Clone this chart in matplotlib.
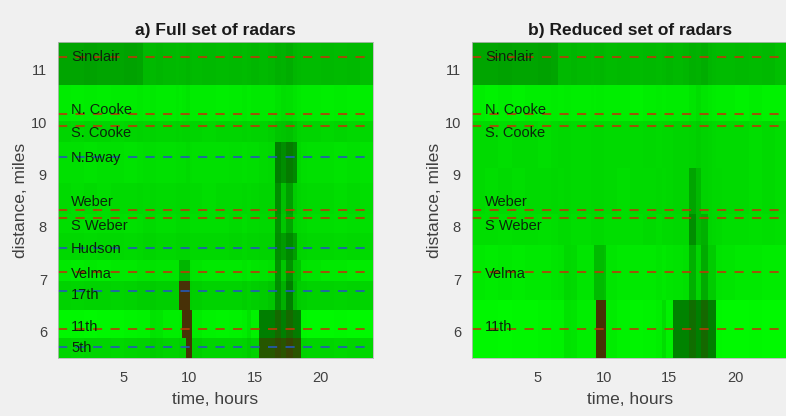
import matplotlib.pyplot as plt
import numpy as np
from matplotlib.colors import LinearSegmentedColormap

plt.rcParams['font.family'] = ['Liberation Sans', 'DejaVu Sans']

# time bin edges (hours), shared by every row
t_edges = [0, 1, 2, 3, 4, 5, 6, 6.5, 7, 7.5, 8, 9, 9.25, 9.45, 9.75, 10.05, 10.2,
           11, 12, 13, 14, 14.4, 14.7, 15.3, 16, 16.5, 17.0, 17.4, 17.9, 18.2,
           18.55, 19, 20, 21, 22, 23, 24]

# ---------- a) full set of radars ----------
full_names = ['Sinclair', 'N. Cooke', 'S. Cooke', 'N.Bway', 'Weber', 'S Weber',
              'Hudson', 'Velma', '17th', '11th', '5th']
full_pos = [11.25, 10.15, 9.92, 9.34, 8.32, 8.17, 7.60, 7.15, 6.77, 6.06, 5.71]
full_label_y = [11.25, 10.23, 9.79, 9.31, 8.48, 8.02, 7.58, 7.11, 6.70, 6.10, 5.69]
full_colors = ['r', 'r', 'r', 'b', 'r', 'r', 'b', 'r', 'b', 'r', 'b']
full_y_edges = [11.53, 10.70, 10.03, 9.62, 8.83, 8.245, 7.885, 7.375, 6.96, 6.415, 5.885, 5.5]

# relative speed per segment (1 = free flow), one value per time bin
full_sinclair = [0.68, 0.68, 0.67, 0.68, 0.68, 0.67, 0.68, 0.75, 0.75, 0.74, 0.75, 0.76,
                 0.75, 0.75, 0.74, 0.75, 0.76, 0.75, 0.76, 0.75, 0.76, 0.75, 0.74, 0.75,
                 0.74, 0.72, 0.73, 0.71, 0.74, 0.75, 0.76, 0.76, 0.75, 0.76, 0.75, 0.77]
full_ncooke = [0.93, 0.94, 0.93, 0.94, 0.93, 0.93, 0.92, 0.93, 0.92, 0.93, 0.93, 0.92,
               0.93, 0.92, 0.91, 0.93, 0.93, 0.93, 0.94, 0.93, 0.92, 0.93, 0.92, 0.92,
               0.92, 0.90, 0.88, 0.89, 0.91, 0.92, 0.93, 0.93, 0.94, 0.93, 0.94, 0.94]
full_scooke = [0.85, 0.86, 0.85, 0.85, 0.86, 0.85, 0.84, 0.85, 0.84, 0.85, 0.85, 0.84,
               0.85, 0.84, 0.84, 0.85, 0.85, 0.86, 0.85, 0.85, 0.84, 0.85, 0.84, 0.84,
               0.83, 0.80, 0.79, 0.78, 0.81, 0.84, 0.85, 0.85, 0.86, 0.85, 0.86, 0.86]
full_nbway = [0.89, 0.89, 0.90, 0.89, 0.89, 0.90, 0.89, 0.88, 0.88, 0.89, 0.89, 0.88,
              0.88, 0.88, 0.87, 0.88, 0.89, 0.89, 0.89, 0.88, 0.89, 0.88, 0.88, 0.87,
              0.86, 0.55, 0.60, 0.52, 0.58, 0.86, 0.88, 0.89, 0.89, 0.90, 0.89, 0.90]
full_weber = [0.87, 0.88, 0.87, 0.88, 0.87, 0.87, 0.86, 0.87, 0.86, 0.87, 0.87, 0.86,
              0.86, 0.86, 0.86, 0.87, 0.87, 0.88, 0.87, 0.87, 0.86, 0.87, 0.86, 0.85,
              0.85, 0.60, 0.78, 0.66, 0.82, 0.85, 0.86, 0.87, 0.87, 0.88, 0.87, 0.88]
full_sweber = [0.88, 0.88, 0.89, 0.88, 0.88, 0.89, 0.88, 0.87, 0.87, 0.88, 0.88, 0.87,
               0.87, 0.87, 0.87, 0.88, 0.88, 0.88, 0.88, 0.87, 0.88, 0.87, 0.87, 0.86,
               0.86, 0.62, 0.80, 0.68, 0.84, 0.86, 0.87, 0.88, 0.88, 0.89, 0.88, 0.89]
full_hudson = [0.86, 0.86, 0.87, 0.86, 0.86, 0.87, 0.86, 0.85, 0.85, 0.86, 0.86, 0.85,
               0.85, 0.85, 0.85, 0.86, 0.86, 0.86, 0.86, 0.85, 0.86, 0.85, 0.85, 0.84,
               0.84, 0.60, 0.65, 0.58, 0.66, 0.84, 0.85, 0.86, 0.86, 0.87, 0.86, 0.87]
full_velma = [0.92, 0.93, 0.92, 0.93, 0.92, 0.92, 0.91, 0.91, 0.90, 0.91, 0.91, 0.91,
              0.74, 0.74, 0.74, 0.90, 0.91, 0.92, 0.92, 0.92, 0.91, 0.92, 0.91, 0.90,
              0.89, 0.62, 0.80, 0.62, 0.78, 0.80, 0.90, 0.91, 0.92, 0.92, 0.93, 0.93]
full_17th = [0.84, 0.85, 0.84, 0.84, 0.85, 0.84, 0.83, 0.83, 0.82, 0.83, 0.83, 0.83,
             0.04, 0.04, 0.04, 0.82, 0.83, 0.84, 0.84, 0.84, 0.83, 0.84, 0.83, 0.82,
             0.80, 0.60, 0.72, 0.55, 0.75, 0.82, 0.83, 0.84, 0.84, 0.85, 0.84, 0.85]
full_11th = [0.97, 0.97, 0.98, 0.97, 0.97, 0.96, 0.95, 0.95, 0.90, 0.91, 0.94, 0.94,
             0.93, 0.05, 0.05, 0.08, 0.93, 0.95, 0.96, 0.95, 0.94, 0.90, 0.95, 0.55,
             0.55, 0.42, 0.55, 0.42, 0.52, 0.54, 0.97, 0.98, 0.98, 0.97, 0.98, 0.98]
full_5th = [0.85, 0.86, 0.85, 0.85, 0.86, 0.85, 0.84, 0.84, 0.82, 0.83, 0.84, 0.84,
            0.83, 0.83, 0.05, 0.06, 0.83, 0.85, 0.85, 0.85, 0.84, 0.82, 0.84, 0.32,
            0.32, 0.22, 0.30, 0.18, 0.30, 0.30, 0.84, 0.85, 0.85, 0.86, 0.85, 0.86]

# ---------- b) reduced set of radars ----------
red_names = ['Sinclair', 'N. Cooke', 'S. Cooke', 'Weber', 'S Weber', 'Velma', '11th']
red_pos = [11.25, 10.15, 9.92, 8.32, 8.17, 7.15, 6.06]
red_label_y = [11.25, 10.23, 9.79, 8.48, 8.02, 7.11, 6.10]
red_colors = ['r', 'r', 'r', 'r', 'r', 'r', 'r']
red_y_edges = [11.53, 10.70, 10.03, 9.12, 8.245, 7.66, 6.60, 5.5]

red_sinclair = [0.68, 0.68, 0.67, 0.68, 0.68, 0.67, 0.68, 0.75, 0.75, 0.74, 0.75, 0.76,
                0.75, 0.75, 0.74, 0.75, 0.76, 0.75, 0.76, 0.75, 0.76, 0.75, 0.74, 0.75,
                0.74, 0.72, 0.73, 0.71, 0.74, 0.75, 0.76, 0.76, 0.75, 0.76, 0.75, 0.77]
red_ncooke = [0.94, 0.95, 0.94, 0.95, 0.94, 0.94, 0.93, 0.94, 0.93, 0.94, 0.94, 0.93,
              0.94, 0.93, 0.93, 0.94, 0.94, 0.94, 0.95, 0.94, 0.93, 0.94, 0.93, 0.93,
              0.93, 0.91, 0.88, 0.91, 0.92, 0.93, 0.94, 0.94, 0.95, 0.94, 0.95, 0.95]
red_scooke = [0.87, 0.87, 0.88, 0.87, 0.87, 0.88, 0.87, 0.86, 0.86, 0.87, 0.87, 0.86,
              0.86, 0.86, 0.86, 0.87, 0.87, 0.87, 0.87, 0.86, 0.87, 0.86, 0.86, 0.85,
              0.85, 0.84, 0.83, 0.84, 0.85, 0.86, 0.87, 0.87, 0.87, 0.88, 0.87, 0.88]
red_weber = [0.87, 0.88, 0.87, 0.88, 0.87, 0.87, 0.86, 0.87, 0.86, 0.87, 0.87, 0.86,
             0.86, 0.86, 0.86, 0.87, 0.87, 0.88, 0.87, 0.87, 0.86, 0.87, 0.86, 0.85,
             0.85, 0.68, 0.75, 0.84, 0.85, 0.86, 0.86, 0.87, 0.87, 0.88, 0.87, 0.88]
red_sweber = [0.88, 0.88, 0.89, 0.88, 0.88, 0.89, 0.88, 0.87, 0.87, 0.88, 0.88, 0.87,
              0.87, 0.87, 0.87, 0.88, 0.88, 0.88, 0.88, 0.87, 0.88, 0.87, 0.87, 0.86,
              0.86, 0.60, 0.75, 0.72, 0.85, 0.86, 0.87, 0.88, 0.88, 0.89, 0.88, 0.89]
red_velma = [0.92, 0.93, 0.92, 0.93, 0.92, 0.92, 0.91, 0.90, 0.86, 0.87, 0.91, 0.91,
             0.76, 0.76, 0.76, 0.78, 0.91, 0.92, 0.92, 0.92, 0.91, 0.92, 0.91, 0.90,
             0.89, 0.72, 0.85, 0.70, 0.82, 0.82, 0.90, 0.91, 0.92, 0.92, 0.93, 0.93]
red_11th = [0.97, 0.97, 0.98, 0.97, 0.97, 0.96, 0.95, 0.95, 0.90, 0.91, 0.94, 0.94,
            0.93, 0.05, 0.05, 0.06, 0.93, 0.95, 0.96, 0.95, 0.94, 0.88, 0.95, 0.56,
            0.56, 0.45, 0.55, 0.42, 0.55, 0.55, 0.97, 0.98, 0.98, 0.97, 0.98, 0.98]

full_grid = np.array([full_sinclair, full_ncooke, full_scooke, full_nbway, full_weber,
                      full_sweber, full_hudson, full_velma, full_17th, full_11th, full_5th])
red_grid = np.array([red_sinclair, red_ncooke, red_scooke, red_weber, red_sweber,
                     red_velma, red_11th])

# dark brown (jammed) -> bright green (free flow)
cmap = LinearSegmentedColormap.from_list(
    'speed', [(0.0, (0.30, 0.17, 0.03)), (0.3, (0.16, 0.33, 0.0)),
              (0.55, (0.0, 0.50, 0.0)), (1.0, (0.0, 1.0, 0.0))])

line_colors = {'r': '#b83a08', 'b': '#2558b8'}

fig = plt.figure(figsize=(7.86, 4.16), dpi=100, facecolor='#f0f0f0')
ax1 = fig.add_axes([58 / 786, 1 - 358 / 416, 315 / 786, 316 / 416])
ax2 = fig.add_axes([472 / 786, 1 - 358 / 416, 316 / 786, 316 / 416])

panels = [
    (ax1, full_grid, full_y_edges, full_names, full_pos, full_label_y, full_colors,
     'a) Full set of radars'),
    (ax2, red_grid, red_y_edges, red_names, red_pos, red_label_y, red_colors,
     'b) Reduced set of radars'),
]

for ax, grid, y_edges, names, pos, lab_y, cols, title in panels:
    ax.pcolormesh(t_edges, y_edges, grid, cmap=cmap, vmin=0, vmax=1, shading='flat')
    for name, y, ly, c in zip(names, pos, lab_y, cols):
        ax.axhline(y, color=line_colors[c], linewidth=1.2, dashes=(5.5, 5))
        ax.text(1.0, ly, name, fontsize=10.5, color='#0b260b', ha='left', va='center')
    ax.set_xlim(0, 24)
    ax.set_ylim(5.5, 11.53)
    ax.set_xticks([5, 10, 15, 20])
    ax.set_yticks([6, 7, 8, 9, 10, 11])
    ax.tick_params(direction='in', length=0, colors='#404040', labelsize=10.5, pad=8)
    ax.tick_params(axis='x', pad=9)
    for s in ax.spines.values():
        s.set_color('#b8b8b8')
        s.set_linewidth(0.6)
    ax.set_title(title, fontsize=12.5, fontweight='bold', color='#1a1a1a', pad=5)
    ax.set_xlabel('time, hours', fontsize=12.5, color='#404040')
    ax.set_ylabel('distance, miles', fontsize=12.5, color='#404040')
    ax.xaxis.set_label_coords(0.5, -34 / 316)
    ax.yaxis.set_label_coords(-30 / 316, 0.5)

plt.savefig('out.png', dpi=100, facecolor=fig.get_facecolor())
